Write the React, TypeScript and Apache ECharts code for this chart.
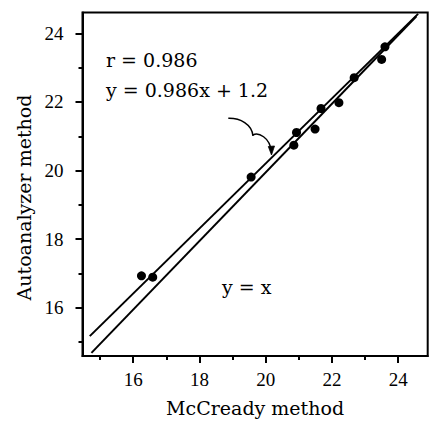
import React, { useEffect, useRef } from "react";
import * as echarts from "echarts";

// Measured points (McCready method vs Autoanalyzer method)
const mcCready = [16.25, 16.59, 19.56, 20.85, 20.93, 21.49, 21.67, 22.21, 22.67, 23.5, 23.6];
const autoanalyzer = [16.93, 16.89, 19.81, 20.74, 21.11, 21.21, 21.81, 21.98, 22.71, 23.24, 23.61];

// Drawn lines (end points)
const regressionX = [14.69, 24.6];
const regressionY = [15.17, 24.57];
const identityX = [14.74, 24.55];
const identityY = [14.68, 24.5];

// Axes
const xRange = [14.47, 24.89];
const yRange = [14.59, 24.61];
const majorTicks = [16, 18, 20, 22, 24];
const minorTicks = [15, 17, 19, 21, 23];

const annotations = ["r = 0.986", "y = 0.986x + 1.2", "y = x"];
const xTitle = "McCready method";
const yTitle = "Autoanalyzer method";

const SERIF = '"DejaVu Serif", serif';
const TICKFONT = '"Liberation Serif", serif';

export default function App() {
  const ref = useRef<HTMLDivElement>(null);
  useEffect(() => {
    if (!ref.current) return;
    const chart = echarts.init(ref.current, null, { renderer: "svg" });
    const zip = (a: number[], b: number[]) => a.map((v, i) => [v, b[i]]);
    const axisCommon = (range: number[]) => ({
      type: "value" as const,
      min: range[0],
      max: range[1],
      splitLine: { show: false },
    });
    chart.setOption({
      animation: false,
      backgroundColor: "#fff",
      grid: {
        left: 82.5,
        right: 2.3,
        top: 12.5,
        bottom: 72,
        show: true,
        borderColor: "#000",
        borderWidth: 2,
      },
      xAxis: [
        {
          ...axisCommon(xRange),
          position: "bottom",
          axisLine: { show: true, lineStyle: { color: "#000", width: 2 } },
          axisTick: {
            show: true,
            inside: false,
            length: 7,
            customValues: majorTicks,
            lineStyle: { color: "#000", width: 2 },
          },
          axisLabel: {
            customValues: majorTicks,
            margin: 14,
            color: "#000",
            fontFamily: TICKFONT,
            fontSize: 19,
          },
          name: xTitle,
          nameLocation: "middle",
          nameGap: 42,
          nameTextStyle: { color: "#000", fontFamily: SERIF, fontSize: 19 },
        },
        {
          ...axisCommon(xRange),
          position: "bottom",
          axisLine: { show: false },
          axisTick: {
            show: true,
            length: 4,
            customValues: minorTicks,
            lineStyle: { color: "#000", width: 2 },
          },
          axisLabel: { show: false },
        },
      ],
      yAxis: [
        {
          ...axisCommon(yRange),
          position: "left",
          axisLine: { show: true, lineStyle: { color: "#000", width: 2 } },
          axisTick: {
            show: true,
            length: 7,
            customValues: majorTicks,
            lineStyle: { color: "#000", width: 2 },
          },
          axisLabel: {
            customValues: majorTicks,
            margin: 19,
            color: "#000",
            fontFamily: TICKFONT,
            fontSize: 19,
          },
        },
        {
          ...axisCommon(yRange),
          position: "left",
          axisLine: { show: false },
          axisTick: {
            show: true,
            length: 4,
            customValues: minorTicks,
            lineStyle: { color: "#000", width: 2 },
          },
          axisLabel: { show: false },
        },
      ],
      series: [
        {
          name: "y = 0.986x + 1.2",
          type: "line",
          xAxisIndex: 0,
          yAxisIndex: 0,
          data: zip(regressionX, regressionY),
          symbol: "none",
          lineStyle: { color: "#000", width: 2 },
        },
        {
          name: "y = x",
          type: "line",
          xAxisIndex: 0,
          yAxisIndex: 0,
          data: zip(identityX, identityY),
          symbol: "none",
          lineStyle: { color: "#000", width: 2 },
        },
        {
          name: "samples",
          type: "scatter",
          xAxisIndex: 0,
          yAxisIndex: 0,
          data: zip(mcCready, autoanalyzer),
          symbol: "circle",
          symbolSize: 9,
          itemStyle: { color: "#000", opacity: 1 },
        },
      ],
      graphic: [
        {
          type: "text",
          x: 106,
          y: 59.7,
          style: { text: annotations[0], font: `19px ${SERIF}`, fill: "#000", align: "left", verticalAlign: "middle" },
        },
        {
          type: "text",
          x: 106,
          y: 90.3,
          style: { text: annotations[1], font: `19px ${SERIF}`, fill: "#000", align: "left", verticalAlign: "middle" },
        },
        {
          type: "text",
          x: 222,
          y: 286.5,
          style: { text: annotations[2], font: `19px ${SERIF}`, fill: "#000", align: "left", verticalAlign: "middle" },
        },
        {
          type: "text",
          x: 24,
          y: 197.5,
          rotation: Math.PI / 2,
          style: { text: yTitle, font: `19px ${SERIF}`, fill: "#000", align: "center", verticalAlign: "middle" },
        },
        {
          type: "bezierCurve",
          shape: { x1: 228.3, y1: 118.3, cpx1: 240, cpy1: 118, cpx2: 252, cpy2: 124, x2: 253, y2: 136 },
          style: { stroke: "#000", lineWidth: 1.5, fill: null },
        },
        {
          type: "bezierCurve",
          shape: { x1: 253, y1: 135, cpx1: 258, cpy1: 132, cpx2: 270, cpy2: 137, x2: 271.5, y2: 152 },
          style: { stroke: "#000", lineWidth: 1.5, fill: null },
        },
        {
          type: "polygon",
          shape: { points: [[268.3, 146.5], [271.5, 155], [274.5, 146]] },
          style: { fill: "#000", stroke: "#000", lineWidth: 0.8 },
        },
      ],
    });
    return () => chart.dispose();
  }, []);
  return (
    <div
      ref={ref}
      style={{ position: "fixed", left: 0, top: 0, width: 430, height: 428, background: "#fff" }}
    />
  );
}
